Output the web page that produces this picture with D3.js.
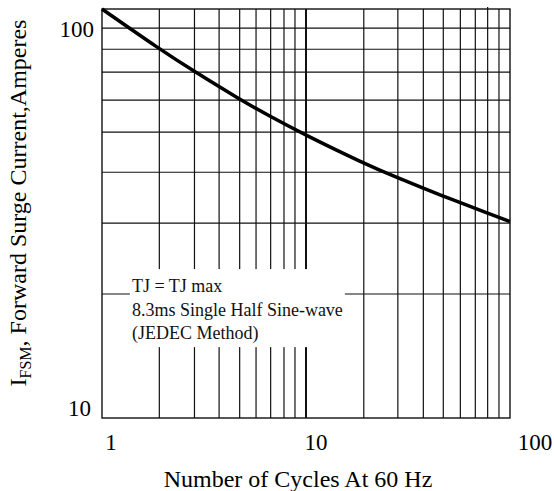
<!DOCTYPE html>
<html>
<head>
<meta charset="utf-8">
<script src="https://cdn.jsdelivr.net/npm/d3@7"></script>
<style>
  html, body { margin: 0; padding: 0; background: #fff; }
  svg { display: block; font-family: "Liberation Serif", "Times New Roman", serif; }
</style>
</head>
<body>
<div id="chart"></div>
<script>
// Surge current vs number of cycles (log-log)
const cycles    = [1, 1.92, 2.86, 4.64, 6.66, 10, 19.2, 27.9, 37.5, 46.9, 56.9, 77.1, 100];
const surgeAmps = [112, 88.3, 77.2, 66.1, 59.4, 53.1, 45.0, 41.4, 38.9, 37.1, 35.7, 33.6, 31.9];

// grid lines as drawn in the original (hand-drawn, not exact decades)
const xGrid = [1.91, 2.84, 3.75, 4.73, 5.69, 6.71, 7.8, 8.83, 10, 19.2, 28.2, 37.6, 47.1, 57.1, 67.6, 77.7, 88.3];
const yGrid = [20.8, 31.6, 42.7, 54.1, 65.4, 77.1, 88.3, 100];

const xTicks = [1, 10, 100];
const yTicks = [10, 100];

const xTitle = 'Number of Cycles At 60 Hz';
const noteLines = ['TJ = TJ max', '8.3ms Single Half Sine-wave', '(JEDEC Method)'];

const W = 554, H = 491;
const margin = { top: 9, right: 44, bottom: 73, left: 102 };
const plotW = W - margin.left - margin.right;
const plotH = H - margin.top - margin.bottom;

const x = d3.scaleLog().domain([1, 100]).range([0, plotW]);
const y = d3.scaleLog().domain([10, 112]).range([plotH, 0]);

const svg = d3.select('#chart').append('svg')
    .attr('width', W)
    .attr('height', H);

const g = svg.append('g')
    .attr('transform', `translate(${margin.left},${margin.top})`);

// ── Grid ──────────────────────────────────────────────────────────────
g.selectAll('.vgrid')
    .data(xGrid)
    .enter()
    .append('line')
    .attr('class', 'vgrid')
    .attr('x1', d => x(d)).attr('x2', d => x(d))
    .attr('y1', d => d === 77.7 ? -2 : 0).attr('y2', plotH)
    .attr('stroke', '#111')
    .attr('stroke-width', d => d === 10 ? 2 : 1.2);

g.selectAll('.hgrid')
    .data(yGrid)
    .enter()
    .append('line')
    .attr('class', 'hgrid')
    .attr('x1', 0).attr('x2', plotW)
    .attr('y1', d => y(d)).attr('y2', d => y(d))
    .attr('stroke', '#111')
    .attr('stroke-width', 1.2);

// frame
g.append('rect')
    .attr('width', plotW)
    .attr('height', plotH)
    .attr('fill', 'none')
    .attr('stroke', '#111')
    .attr('stroke-width', 1.4);

// ── Note box (white patch hides the grid behind the text) ─────────────
const note = g.append('g').attr('transform', `translate(${x(1.37)},${y(24.1)})`);
note.append('rect')
    .attr('x', 0).attr('y', 0)
    .attr('width', x(15.5) - x(1.37))
    .attr('height', y(15.2) - y(24.1))
    .attr('fill', '#fff');
note.selectAll('text')
    .data(noteLines)
    .enter()
    .append('text')
    .attr('x', 2)
    .attr('y', (d, i) => 23 + i * 23.5)
    .style('font-size', '18px')
    .style('fill', '#111')
    .text(d => d);

// ── Curve ─────────────────────────────────────────────────────────────
const line = d3.line()
    .x(d => x(d[0]))
    .y(d => y(d[1]))
    .curve(d3.curveBasis);

g.append('path')
    .datum(d3.zip(cycles, surgeAmps))
    .attr('fill', 'none')
    .attr('stroke', '#000')
    .attr('stroke-width', 3.5)
    .attr('stroke-linejoin', 'round')
    .attr('d', line);

// ── Tick labels ───────────────────────────────────────────────────────
const xLabelShift = { 1: 9, 10: 10, 100: 25 };
g.selectAll('.xlab')
    .data(xTicks)
    .enter()
    .append('text')
    .attr('class', 'xlab')
    .attr('x', d => x(d) + xLabelShift[d])
    .attr('y', plotH + 32)
    .attr('text-anchor', 'middle')
    .style('font-size', '23px')
    .text(d => d);

const yLabelShift = { 10: -2, 100: 9 };
g.selectAll('.ylab')
    .data(yTicks)
    .enter()
    .append('text')
    .attr('class', 'ylab')
    .attr('x', d => d === 10 ? -11 : -8)
    .attr('y', d => y(d) + yLabelShift[d])
    .attr('text-anchor', 'end')
    .style('font-size', '23px')
    .text(d => d);

// ── Axis titles ───────────────────────────────────────────────────────
svg.append('text')
    .attr('x', 298)
    .attr('y', 487)
    .attr('text-anchor', 'middle')
    .style('font-size', '24px')
    .text(xTitle);

const yTitle = svg.append('text')
    .attr('transform', 'translate(26,203) rotate(-90)')
    .attr('text-anchor', 'middle')
    .style('font-size', '24px');
yTitle.append('tspan').text('I');
yTitle.append('tspan').attr('dy', 5).style('font-size', '16px').text('FSM');
yTitle.append('tspan').attr('dy', -5).text(', Forward Surge Current,Amperes');
</script>
</body>
</html>
